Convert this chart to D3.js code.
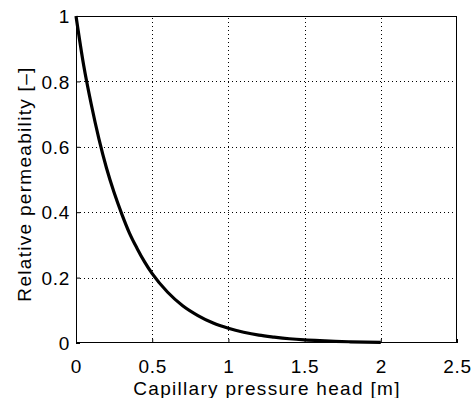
<!DOCTYPE html>
<html>
<head>
<meta charset="utf-8">
<script src="https://cdn.jsdelivr.net/npm/d3@7"></script>
<style>
  body { margin: 0; background: #fff; }
  svg { display: block; }
  text { font-family: "Liberation Sans", Arial, sans-serif; fill: #000; }
</style>
</head>
<body>
<svg id="chart" width="471" height="398"></svg>
<script>
// pressure head [m] and relative permeability
var head = [0, 0.05, 0.1, 0.15, 0.2, 0.25, 0.3, 0.35, 0.4, 0.45, 0.5, 0.6, 0.7, 0.8, 0.9,
	1.0, 1.1, 1.2, 1.3, 1.4, 1.5, 1.6, 1.7, 1.8, 1.9, 2.0]
var kr = [1.0, 0.85, 0.73, 0.625, 0.535, 0.46, 0.395, 0.337, 0.29, 0.248, 0.212, 0.156, 0.114, 0.084, 0.061,
	0.045, 0.033, 0.024, 0.018, 0.013, 0.0095, 0.007, 0.005, 0.0037, 0.0027, 0.002]
var xTicks = [0, 0.5, 1, 1.5, 2, 2.5]
var yTicks = [0, 0.2, 0.4, 0.6, 0.8, 1]

var chart = {
	left: 76, top: 16, right: 457, bottom: 343
}
var fontSize = 19

var svg = d3.select("#chart")

var x = d3.scaleLinear().domain([0, 2.5]).range([chart.left, chart.right])
var y = d3.scaleLinear().domain([0, 1]).range([chart.bottom, chart.top])

// dotted grid
var grid = svg.append("g").attr("stroke", "#000").attr("stroke-width", 1)
	.attr("stroke-dasharray", "1,3")
grid.selectAll("line.gx")
	.data(xTicks.slice(1, -1))
	.enter()
	.append("line")
	.attr("x1", function(d){ return Math.round(x(d)) + 0.5 })
	.attr("x2", function(d){ return Math.round(x(d)) + 0.5 })
	.attr("y1", chart.bottom)
	.attr("y2", chart.top)
grid.selectAll("line.gy")
	.data(yTicks.slice(1, -1))
	.enter()
	.append("line")
	.attr("y1", function(d){ return Math.round(y(d)) + 0.5 })
	.attr("y2", function(d){ return Math.round(y(d)) + 0.5 })
	.attr("x1", chart.left)
	.attr("x2", chart.right)

// curve
var pts = head.map(function(h, i){ return [h, kr[i]] })
svg.append("path")
	.datum(pts)
	.attr("fill", "none")
	.attr("stroke", "#000")
	.attr("stroke-width", 3.2)
	.attr("d", d3.line()
		.x(function(d){ return x(d[0]) })
		.y(function(d){ return y(d[1]) })
		.curve(d3.curveMonotoneX))

// box
svg.append("rect")
	.attr("x", chart.left + 0.5)
	.attr("y", chart.top + 0.5)
	.attr("width", chart.right - chart.left - 1)
	.attr("height", chart.bottom - chart.top - 1)
	.attr("fill", "none")
	.attr("stroke", "#000")

// axes with inward ticks
var xAxis = svg.append("g")
	.attr("transform", "translate(0," + chart.bottom + ")")
	.call(d3.axisBottom(x).tickValues(xTicks).tickSizeInner(-4).tickSizeOuter(0)
		.tickFormat(function(d){ return String(d) }))
xAxis.select(".domain").remove()
xAxis.selectAll("text").attr("font-size", fontSize).attr("dy", 0).attr("y", 30)
	.attr("letter-spacing", 0.7)
	.attr("font-family", "Liberation Sans, Arial, sans-serif")

var yAxis = svg.append("g")
	.attr("transform", "translate(" + chart.left + ",0)")
	.call(d3.axisLeft(y).tickValues(yTicks).tickSizeInner(-4).tickSizeOuter(0)
		.tickFormat(function(d){ return String(d) }))
yAxis.select(".domain").remove()
yAxis.selectAll("text").attr("font-size", fontSize).attr("x", -6).attr("dy", "0.35em")
	.attr("letter-spacing", 0.7)
	.attr("font-family", "Liberation Sans, Arial, sans-serif")

// axis labels
svg.append("text")
	.attr("x", 267)
	.attr("y", 395)
	.attr("text-anchor", "middle")
	.attr("font-size", fontSize)
	.attr("letter-spacing", 1.3)
	.text("Capillary pressure head [m]")

svg.append("text")
	.attr("transform", "translate(31,184) rotate(-90)")
	.attr("text-anchor", "middle")
	.attr("font-size", fontSize)
	.attr("letter-spacing", 1.3)
	.text("Relative permeability [\u2013]")
</script>
</body>
</html>
